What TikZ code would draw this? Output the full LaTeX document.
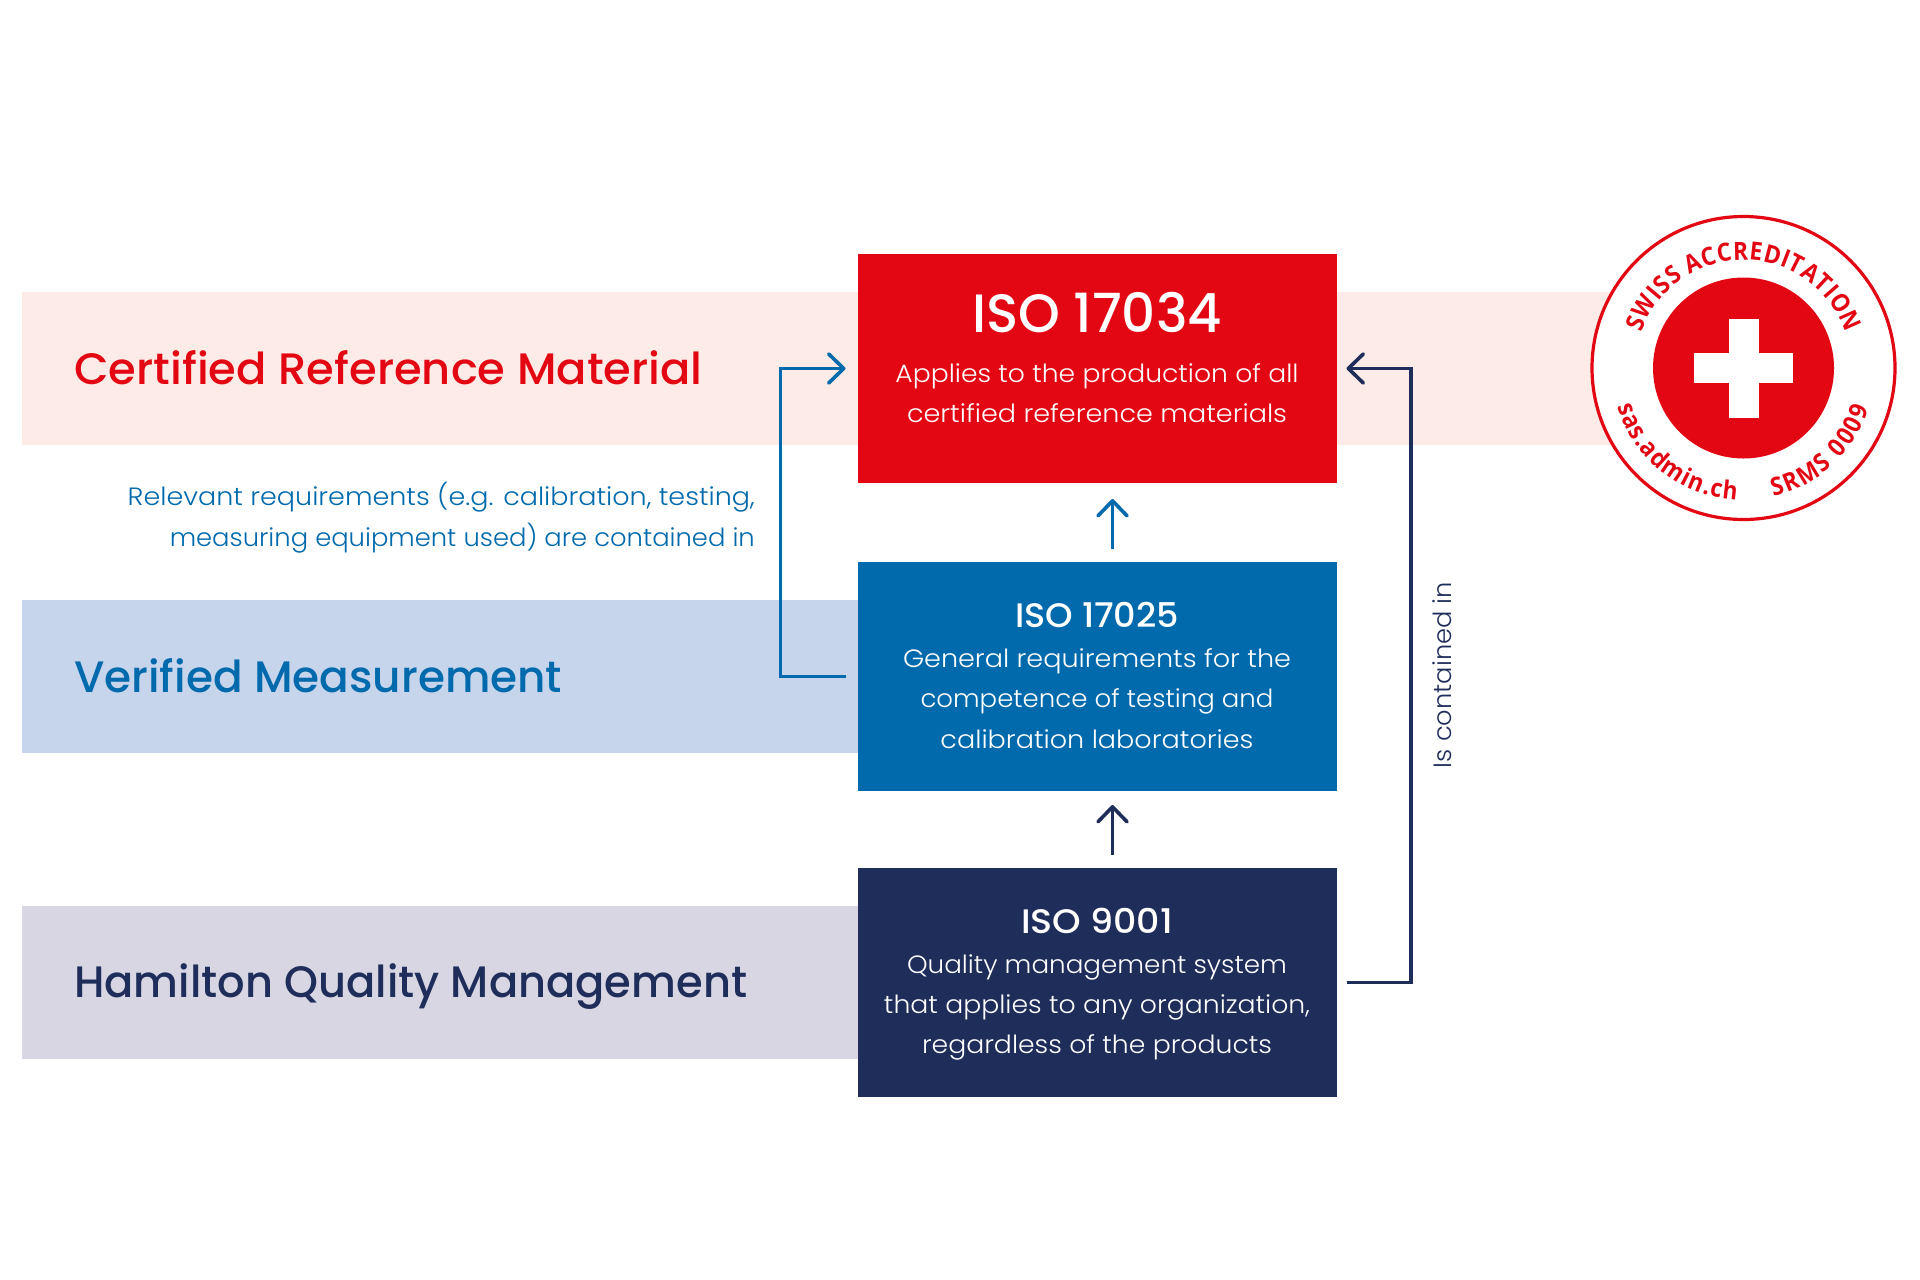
\documentclass[tikz,border=0pt]{standalone}
\usepackage{fontspec}
\usepackage{graphicx}
\usetikzlibrary{arrows.meta,decorations.text}
\setmainfont{Poppins}
\newfontfamily\bodyf{Poppins Light}
\newfontfamily\headf{Poppins Medium}
\newfontfamily\sealf{Open Sans}[BoldFont=* Bold,BoldFeatures={FakeStretch=0.91}]
\definecolor{cred}{HTML}{E30613}
\definecolor{cblue}{HTML}{006AAD}
\definecolor{cnavy}{HTML}{1F2D5A}
\definecolor{bandred}{HTML}{FCEBE6}
\definecolor{bandblue}{HTML}{C6D4EC}
\definecolor{bandgrey}{HTML}{D7D6E2}
\newcommand{\fitw}[2]{\resizebox{#1pt}{\height}{#2}}
\newcommand{\sealfmt}{\color{cred}\sealf\bfseries\fontsize{25}{25}\selectfont}
\tikzset{
  band/.style={anchor=north west,inner sep=0pt,outer sep=0pt,minimum height=153pt},
  isobox/.style={anchor=north west,inner sep=0pt,outer sep=0pt,minimum width=479pt,minimum height=229pt},
  txt/.style={anchor=base,inner sep=0pt},
  heading/.style={anchor=base west,inner sep=0pt,font=\headf\fontsize{44}{44}\selectfont},
  body/.style={txt,text=white,font=\bodyf\fontsize{25}{25}\selectfont},
  conn/.style={line width=3.6pt,line cap=butt,-{Straight Barb[length=15pt,width=29pt,line width=3.6pt,round]}}
}
\begin{document}
\begin{tikzpicture}[x=1pt,y=-1pt]
\useasboundingbox (0,0) rectangle (1920,1280);
\fill[white] (0,0) rectangle (1920,1280);
% bands
\node[band,fill=bandred,minimum width=1640pt] (b1) at (22,292) {};
\node[band,fill=bandblue,minimum width=840pt] (b2) at (22,600) {};
\node[band,fill=bandgrey,minimum width=840pt] (b3) at (22,906) {};
% headings
\node[heading,text=cred] (h1) at (74,384) {\fitw{628.5}{Certified Reference Material}};
\node[heading,text=cblue] (h2) at (74,692) {\fitw{488}{Verified Measurement}};
\node[heading,text=cnavy] (h3) at (74,997.5) {\fitw{673}{Hamilton Quality Management}};
% boxes
\node[isobox,fill=cred] (red) at (857.5,254) {};
\node[isobox,fill=cblue] (blue) at (857.5,562) {};
\node[isobox,fill=cnavy] (navy) at (857.5,868) {};
% box texts
\node[txt,text=white,font=\headf\fontsize{54}{54}\selectfont] (t1) at (1097,332) {\fitw{250}{ISO 17034}};
\node[body] (t1a) at (1097,382) {\fitw{403}{Applies to the production of all}};
\node[body] (t1b) at (1097,422.5) {\fitw{380}{certified reference materials}};
\node[txt,text=white,font=\headf\fontsize{34}{34}\selectfont] (t2) at (1097,627) {\fitw{164}{ISO 17025}};
\node[body] (t2a) at (1097,667.5) {\fitw{388}{General requirements for the}};
\node[body] (t2b) at (1097,707.5) {\fitw{353}{competence of testing and}};
\node[body] (t2c) at (1097,748) {\fitw{313}{calibration laboratories}};
\node[txt,text=white,font=\headf\fontsize{34}{34}\selectfont] (t3) at (1097,933) {\fitw{152}{ISO 9001}};
\node[body] (t3a) at (1097,973.5) {\fitw{380}{Quality management system}};
\node[body] (t3b) at (1097,1013.5) {\fitw{426}{that applies to any organization,}};
\node[body] (t3c) at (1097,1053.5) {\fitw{350}{regardless of the products}};
% side notes
\node[anchor=base east,inner sep=0pt,text=cblue,font=\bodyf\fontsize{25}{25}\selectfont] (n1) at (755,505.5) {\fitw{627}{Relevant requirements (e.g. calibration, testing,}};
\node[anchor=base east,inner sep=0pt,text=cblue,font=\bodyf\fontsize{25}{25}\selectfont] (n2) at (755,546) {\fitw{585}{measuring equipment used) are contained in}};
\node[anchor=base,rotate=90,inner sep=0pt,text=cnavy,font=\bodyf\fontsize{25}{25}\selectfont] (n3) at (1451,675) {\fitw{186}{Is contained in}};
% connectors
\draw[conn,draw=cblue] ([xshift=-12pt]blue.west) -- ++(-65pt,0pt) |- ([xshift=-12pt]red.west);
\draw[conn,draw=cnavy] ([xshift=10pt]navy.east) -- ++(64.5pt,0pt) |- ([xshift=10pt]red.east);
\draw[conn,draw=cblue] ([xshift=15.5pt,yshift=13pt]blue.north) -- ([xshift=15.5pt,yshift=-16pt]red.south);
\draw[conn,draw=cnavy] ([xshift=15.5pt,yshift=13pt]navy.north) -- ([xshift=15.5pt,yshift=-14pt]blue.south);
% seal
\node[circle,draw=cred,fill=white,line width=3.2pt,minimum size=303pt,inner sep=0pt] (seal) at (1743.5,368) {};
\node[circle,fill=cred,minimum size=181pt,inner sep=0pt] (disc) at (seal.center) {};
\node[fill=white,minimum width=30pt,minimum height=99pt,inner sep=0pt] (crossv) at (seal.center) {};
\node[fill=white,minimum width=99pt,minimum height=30pt,inner sep=0pt] (crossh) at (seal.center) {};
\path[decorate,decoration={text along path,text align={fit to path},text={|\sealfmt|SWISS ACCREDITATION}}]
  (seal.center) ++(161:108pt) arc[start angle=161,end angle=19,radius=108pt];
\path[decorate,decoration={text along path,text align={fit to path},text={|\sealfmt|sas.admin.ch}}]
  (seal.center) ++(197:132pt) arc[start angle=197,end angle=267,radius=132pt];
\path[decorate,decoration={text along path,text align={fit to path},text={|\sealfmt|SRMS 0009}}]
  (seal.center) ++(283:132pt) arc[start angle=283,end angle=342,radius=132pt];
\end{tikzpicture}
\end{document}
